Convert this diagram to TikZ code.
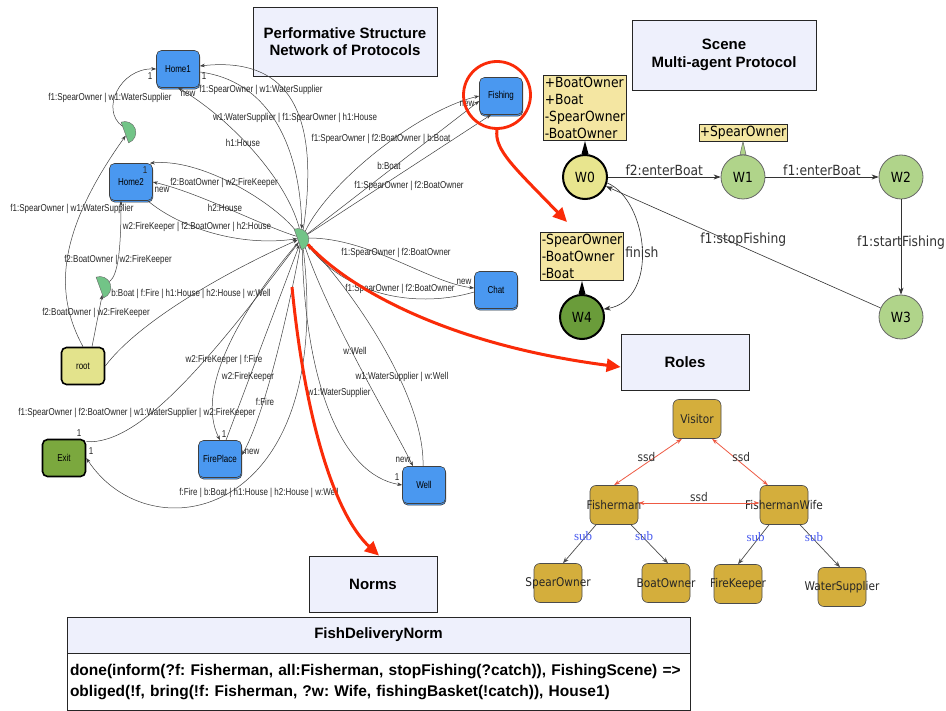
\documentclass[tikz,border=0pt]{standalone}
\usepackage{fontspec}
\setmainfont{Liberation Sans}
\newfontfamily\netfont[FakeStretch=0.8]{Liberation Sans}
\newfontfamily\lucida[FakeStretch=0.88]{DejaVu Sans}
\newfontfamily\subfont{Liberation Serif}
\usetikzlibrary{arrows.meta,positioning,shapes.geometric,shadows,calc}
\definecolor{lavender}{HTML}{EEF0FC}
\definecolor{netblue}{HTML}{4A98F0}
\definecolor{rootyellow}{HTML}{E3E38C}
\definecolor{exitgreen}{HTML}{7BA83E}
\definecolor{transgreen}{HTML}{72C487}
\definecolor{stateyellow}{HTML}{E8E58E}
\definecolor{stategreen}{HTML}{B0D48A}
\definecolor{finalgreen}{HTML}{6A9C3A}
\definecolor{tagyellow}{HTML}{F4E6A2}
\definecolor{rolegold}{HTML}{D4AE3C}
\definecolor{hotred}{HTML}{FA2B08}
\definecolor{ssdred}{HTML}{EE5A44}
\definecolor{subblue}{HTML}{4A5CF0}
\tikzset{
  titlebox/.style={draw=black!85,line width=0.8pt,fill=lavender,align=center,
    font=\bfseries\fontsize{15}{17.5}\selectfont,minimum width=#1,inner sep=2pt},
  titlebox/.default=184pt,
  netnode/.style={rectangle,rounded corners=5pt,draw=black!75,line width=0.6pt,fill=netblue,
    font=\netfont\fontsize{10}{12}\selectfont,minimum width=43pt,minimum height=37pt,inner sep=1pt},
  bluenode/.style={netnode,copy shadow={shadow xshift=0.4pt,shadow yshift=-1.6pt}},
  endnode/.style={netnode,draw=black,line width=1.6pt,fill=#1},
  trans/.style={semicircle,draw=black!60,fill=transgreen,minimum size=11pt,inner sep=0pt,rotate=-70},
  netedge/.style={-{Stealth[length=5pt,width=3.5pt]},draw=black!75,line width=0.5pt},
  lbl/.style={font=\netfont\fontsize{10}{12}\selectfont,text=black!85,inner sep=0pt},
  bigred/.style={-{Triangle[length=14pt,width=13pt]},draw=hotred,line width=3pt},
  state/.style={circle,minimum size=44pt,inner sep=0pt,draw=black!60,line width=0.8pt,fill=#1,
    font=\lucida\fontsize{14}{16}\selectfont},
  state/.default=stategreen,
  mainstate/.style={state=#1,draw=black,line width=2pt},
  tag/.style={draw=black!85,line width=0.6pt,fill=tagyellow,align=left,inner xsep=1pt,inner ysep=2pt,
    font=\lucida\fontsize{14}{17}\selectfont},
  sceneedge/.style={-{Stealth[length=7pt,width=5pt]},draw=black!80,line width=0.6pt},
  scenelbl/.style={font=\lucida\fontsize{14}{16}\selectfont,text=black!80,inner sep=1pt},
  role/.style={rectangle,rounded corners=6pt,draw=black!70,line width=0.6pt,fill=rolegold,
    minimum width=48pt,minimum height=39pt,
    label={[font=\lucida\fontsize{12}{14}\selectfont,text=black!85]center:#1}},
  ssd/.style={{Stealth[length=6pt,width=4pt]}-{Stealth[length=6pt,width=4pt]},draw=ssdred,line width=0.8pt},
  ssdlbl/.style={font=\lucida\fontsize{12}{14}\selectfont,text=black!80,inner sep=0.5pt},
  subedge/.style={-{Stealth[length=6pt,width=4.5pt]},draw=black!70,line width=0.7pt},
  sublbl/.style={font=\subfont\fontsize{13}{15}\selectfont,text=subblue,inner sep=0pt},
  normhead/.style={draw=black!85,line width=0.8pt,fill=lavender,minimum width=623pt,minimum height=36pt,
    font=\bfseries\fontsize{15}{17}\selectfont},
  normbody/.style={draw=black!85,line width=0.8pt,fill=white,minimum width=623pt,minimum height=57pt,
    text width=617pt,inner xsep=3pt,align=left,font=\bfseries\fontsize{15.5}{21}\selectfont},
}
\frenchspacing
\begin{document}
\begin{tikzpicture}[x=1pt,y=1pt]
  \fill[white] (0,0) rectangle (946,-711);
  \useasboundingbox (0,0) rectangle (946,-711);
  \node[titlebox,minimum height=69pt] (perf) at (345,-41.5) {Performative Structure\\Network of Protocols};
  \node[titlebox,minimum height=70pt] (scene) at (724,-55) {Scene\\Multi-agent Protocol};
  \node[titlebox=128pt,minimum height=56pt] (roles) at (685,-362) {Roles};
  \node[titlebox=128pt,minimum height=56pt] (norms) at (373,-584) {Norms};

  \node[trans] (hub) at (302,-238) {};
  \node[trans] (tone) at (129,-131) {};
  \node[trans] (ttwo) at (104,-286) {};
  \node[bluenode] (home1) at (178,-69) {Home1};
  \node[bluenode] (home2) at (131,-182) {Home2};
  \node[bluenode] (fishing) at (501,-96) {Fishing};
  \node[bluenode] (chat) at (496,-290) {Chat};
  \node[bluenode] (fireplace) at (220,-459) {FirePlace};
  \node[bluenode] (well) at (424,-485) {Well};
  \node[endnode=rootyellow] (root) at (83,-366) {root};
  \node[endnode=exitgreen] (exit) at (64,-458) {Exit};

  \draw[netedge] (tone) .. controls (100,-110) and (120,-68) .. (home1.west);
  \draw[netedge] (hub) .. controls (318,-130) and (300,-55) .. ([yshift=3pt]home1.east);
  \draw[netedge] ([yshift=-3pt]home1.east) .. controls (265,-80) and (300,-140) .. (hub);
  \draw[netedge] (hub) .. controls (285,-175) and (225,-115) .. (home1.south);
  \draw[netedge] (hub) .. controls (270,-200) and (200,-158) .. ([xshift=-3pt]home2.north east);
  \draw[netedge] (hub) .. controls (260,-225) and (200,-193) .. (home2.east);
  \draw[netedge] ([xshift=-5pt]home2.south east) .. controls (180,-228) and (240,-247) .. (hub);
  \draw[netedge] (ttwo) .. controls (118,-275) and (121,-250) .. ([xshift=-10pt]home2.south);
  \draw[netedge] (root.north) .. controls (55,-295) and (55,-235) .. (tone);
  \draw[netedge] ([xshift=9pt]root.north) -- (ttwo);
  \draw[netedge] (root.east) .. controls (140,-320) and (230,-270) .. (hub);
  \draw[netedge] (hub) .. controls (330,-180) and (420,-110) .. (fishing.west);
  \draw[netedge] (hub) -- ([yshift=-5pt]fishing.west);
  \draw[netedge] (hub) -- ([xshift=-10pt]fishing.south);
  \draw[netedge] (hub) .. controls (370,-238) and (430,-283) .. ([yshift=2pt]chat.west);
  \draw[netedge] ([yshift=-2pt]chat.west) .. controls (420,-308) and (350,-298) .. (hub);
  \draw[netedge] (hub) .. controls (330,-320) and (390,-420) .. ([xshift=-11pt]well.north);
  \draw[netedge] ([xshift=-1pt]well.north) .. controls (425,-400) and (360,-300) .. (hub);
  \draw[netedge] (hub) .. controls (305,-380) and (340,-475) .. (well.west);
  \draw[netedge] (hub) .. controls (240,-310) and (195,-390) .. (fireplace.north);
  \draw[netedge] ([xshift=6pt]fireplace.north) -- (hub);
  \draw[netedge] (hub) .. controls (285,-330) and (262,-420) .. ([yshift=4pt]fireplace.east);
  \draw[netedge] ([yshift=-3pt]exit.north east) .. controls (140,-445) and (210,-360) .. (hub);
  \draw[netedge] (hub) .. controls (335,-520) and (150,-555) .. (exit.east);

  \node[lbl] at (110,-98) {f1:SpearOwner | w1:WaterSupplier};
  \node[lbl] at (150,-76) {1};
  \node[lbl] at (204,-76) {1};
  \node[lbl] at (188,-94) {new};
  \node[lbl] at (261,-90) {f1:SpearOwner | w1:WaterSupplier};
  \node[lbl] at (295,-118) {w1:WaterSupplier | f1:SpearOwner | h1:House};
  \node[lbl] at (243,-143) {h1:House};
  \node[lbl] at (145,-170) {1};
  \node[lbl] at (162,-190) {new};
  \node[lbl] at (224,-183) {f2:BoatOwner | w2:FireKeeper};
  \node[lbl] at (225,-208) {h2:House};
  \node[lbl] at (197,-227) {w2:FireKeeper | f2:BoatOwner | h2:House};
  \node[lbl] at (72,-209) {f1:SpearOwner | w1:WaterSupplier};
  \node[lbl] at (118,-260) {f2:BoatOwner | w2:FireKeeper};
  \node[lbl] at (96,-313) {f2:BoatOwner | w2:FireKeeper};
  \node[lbl] at (191,-294) {b:Boat | f:Fire | h1:House | h2:House | w:Well};
  \node[lbl] at (381,-139) {f1:SpearOwner | f2:BoatOwner | b:Boat};
  \node[lbl] at (389,-166) {b:Boat};
  \node[lbl] at (409,-186) {f1:SpearOwner | f2:BoatOwner};
  \node[lbl] at (467,-104) {new};
  \node[lbl] at (396,-253) {f1:SpearOwner | f2:BoatOwner};
  \node[lbl] at (400,-289) {f1:SpearOwner | f2:BoatOwner};
  \node[lbl] at (464,-282) {new};
  \node[lbl] at (355,-351) {w:Well};
  \node[lbl] at (402,-377) {w1:WaterSupplier | w:Well};
  \node[lbl] at (339,-393) {w1:WaterSupplier};
  \node[lbl] at (403,-460) {new};
  \node[lbl] at (397,-477) {1};
  \node[lbl] at (224,-360) {w2:FireKeeper | f:Fire};
  \node[lbl] at (248,-377) {w2:FireKeeper};
  \node[lbl] at (265,-402) {f:Fire};
  \node[lbl] at (224,-434) {1};
  \node[lbl] at (252,-452) {new};
  \node[lbl] at (137,-413) {f1:SpearOwner | f2:BoatOwner | w1:WaterSupplier | w2:FireKeeper};
  \node[lbl] at (79,-433) {1};
  \node[lbl] at (91,-451) {1};
  \node[lbl] at (259,-493) {f:Fire | b:Boat | h1:House | h2:House | w:Well};

  \node[mainstate=stateyellow] (w0) at (585,-177) {W0};
  \node[state] (w1) at (743,-177) {W1};
  \node[state] (w2) at (901,-177) {W2};
  \node[state] (w3) at (901,-317) {W3};
  \node[mainstate=finalgreen] (w4) at (582,-317) {W4};
  \node[tag,minimum width=83pt,above=13pt of w0] (tagw0) {+BoatOwner\\+Boat\\-SpearOwner\\-BoatOwner};
  \node[tag,above=13pt of w1] (tagw1) {+SpearOwner};
  \node[tag,minimum width=83pt,above=13pt of w4] (tagw4) {-SpearOwner\\-BoatOwner\\-Boat};
  \fill[black] ([xshift=-3.5pt]w0.north) -- (tagw0.south) -- ([xshift=3.5pt]w0.north) -- cycle;
  \filldraw[draw=black!60,fill=stategreen,line width=0.5pt] ([xshift=-3pt]w1.north) -- (tagw1.south) -- ([xshift=3pt]w1.north) -- cycle;
  \fill[black] ([xshift=-3.5pt]w4.north) -- (tagw4.south) -- ([xshift=3.5pt]w4.north) -- cycle;
  \draw[sceneedge] (w0) -- node[scenelbl,above=0pt] {f2:enterBoat} (w1);
  \draw[sceneedge] (w1) -- node[scenelbl,above=0pt] {f1:enterBoat} (w2);
  \draw[sceneedge] (w2) -- node[scenelbl,pos=0.45] {f1:startFishing} (w3);
  \draw[sceneedge] (w3) -- node[scenelbl,midway,yshift=7pt] {f1:stopFishing} (w0);
  \draw[sceneedge] (w0.-15) .. controls (648,-200) and (660,-300) .. node[scenelbl,pos=0.52] {finish} (w4.20);

  \node[role=Visitor] (visitor) at (697,-419) {};
  \node[role=Fisherman] (fisherman) at (614,-505) {};
  \node[role=FishermanWife] (wife) at (784,-505) {};
  \node[role=SpearOwner] (spear) at (558,-583) {};
  \node[role=BoatOwner] (boat) at (666,-583) {};
  \node[role=FireKeeper] (firekeeper) at (738,-584) {};
  \node[role=WaterSupplier] (water) at (842,-587) {};
  \draw[ssd] ([xshift=-15pt]visitor.south) -- node[ssdlbl,pos=0.45,xshift=-5pt,yshift=3pt] {ssd} (fisherman.north);
  \draw[ssd] ([xshift=15pt]visitor.south) -- node[ssdlbl,pos=0.45,xshift=4pt,yshift=3pt] {ssd} ([xshift=-16pt]wife.north);
  \draw[ssd] ([yshift=2pt]wife.west) -- node[ssdlbl,above=0pt] {ssd} ([yshift=2pt]fisherman.east);
  \draw[subedge] ([xshift=-18pt]fisherman.south) -- node[sublbl,pos=0.3,xshift=-3pt] {sub} ([xshift=5pt]spear.north);
  \draw[subedge] ([xshift=17pt]fisherman.south) -- node[sublbl,pos=0.3,xshift=2pt] {sub} ([xshift=2pt]boat.north);
  \draw[subedge] ([xshift=-15pt]wife.south) -- node[sublbl,pos=0.3,xshift=-4pt] {sub} (firekeeper.north);
  \draw[subedge] ([xshift=16pt]wife.south) -- node[sublbl,pos=0.3,xshift=2pt] {sub} ([xshift=-2pt]water.north);

  \node[normhead] (fdn) at (378.5,-635) {FishDeliveryNorm};
  \node[normbody,below=0pt of fdn] (fdnbody) {done(inform(?f: Fisherman, all:Fisherman, stopFishing(?catch)), FishingScene) =>\\obliged(!f, bring(!f: Fisherman, ?w: Wife, fishingBasket(!catch)), House1)};

  \node[draw=hotred,line width=2.8pt,circle,minimum size=67pt,inner sep=0pt] (ring) at (497,-95) {};
  \coordinate (ringtip) at (567,-222);
  \coordinate (normstail) at (292,-287);
  \draw[bigred] (ring.south) .. controls (494,-150) and (515,-168) .. (ringtip);
  \draw[bigred] (hub) .. controls (350,-290) and (450,-345) .. ([yshift=-5pt]roles.west);
  \draw[bigred] (normstail) .. controls (305,-420) and (335,-515) .. ([xshift=6pt]norms.north);
\end{tikzpicture}
\end{document}
